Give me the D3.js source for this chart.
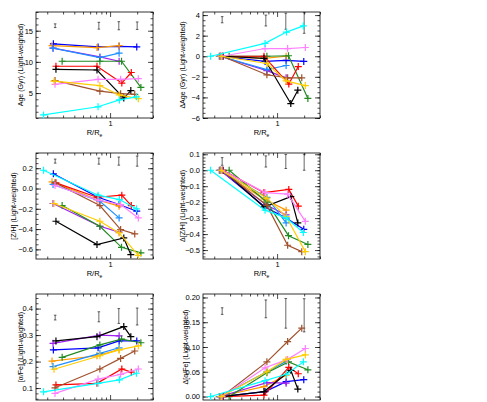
<!DOCTYPE html>
<html><head><meta charset="utf-8">
<script src="https://cdn.jsdelivr.net/npm/d3@7"></script>
<style>body{margin:0;background:#fff} text{font-family:"Liberation Sans",Arial,sans-serif}</style>
</head><body><svg id="c" width="487" height="402"></svg>
<script>
// ---------------- data ----------------
const galaxies = ["G1","G2","G3","G4","G5","G6","G7","G8","G9","G10","G11"];
const colors = ["#0000ff","#ff9900","#a020f0","#1e90ff","#228b22","#ff0000","#000000","#a0522d","#ff80ff","#ffcc00","#00ffff"];
const radii = [
  [0.234,0.735,1.26,1.98],
  [0.226,0.715,1.26],
  [0.232,0.77,1.26],
  [0.232,0.77,1.26],
  [0.293,0.77,1.34,2.2],
  [0.25,0.715,1.35,1.72],
  [0.25,0.715,1.42,1.7],
  [0.244,0.77,1.31,1.88],
  [0.244,0.735,1.31,2.06],
  [0.238,0.77,1.26,2.06],
  [0.182,0.735,1.27,1.96]
];
const age = [
  [12.9,12.4,12.5,12.4],
  [12.6,12.3,12.6],
  [12.2,10.8,10.1],
  [12.2,10.7,11.4],
  [10.1,10.1,10.1,5.9],
  [9.3,9.3,6.6,8.3],
  [8.8,8.7,4.2,5.4],
  [7.0,5.3,4.9,4.8],
  [6.4,7.2,7.2,7.3],
  [6.9,6.2,4.7,4.1],
  [1.5,2.8,3.9,4.4]
];
const dAge = [
  [0,-0.5,-0.4,-0.5],
  [0,-0.2,0.0],
  [0,-1.4,-2.1],
  [0,-1.3,-0.9],
  [0,0,0.05,-4.1],
  [0,0,-2.7,-1.0],
  [0,-0.2,-4.6,-3.3],
  [0,-1.8,-2.1,-2.1],
  [0,0.75,0.75,0.85],
  [0,-0.7,-2.4,-2.85],
  [0,1.25,2.35,2.95]
];
const zh = [
  [0.145,-0.086,-0.158,-0.224],
  [0.066,-0.11,-0.174],
  [-0.148,-0.372,-0.43],
  [0.04,-0.125,-0.29],
  [-0.168,-0.372,-0.58,-0.635],
  [0.056,-0.086,-0.066,-0.168],
  [-0.323,-0.553,-0.487,-0.652],
  [0.056,-0.168,-0.405,-0.448],
  [0.03,-0.115,-0.158,-0.29],
  [-0.148,-0.323,-0.438,-0.66],
  [0.18,-0.066,-0.109,-0.2]
];
const dZh = [
  [0,-0.23,-0.30,-0.37],
  [0,-0.18,-0.25],
  [0,-0.22,-0.28],
  [0,-0.17,-0.33],
  [0,-0.2,-0.41,-0.465],
  [0,-0.14,-0.12,-0.225],
  [0,-0.23,-0.165,-0.33],
  [0,-0.22,-0.47,-0.51],
  [0,-0.14,-0.15,-0.32],
  [0,-0.175,-0.29,-0.51],
  [0,-0.25,-0.30,-0.39]
];
const afe = [
  [0.244,0.252,0.278,0.278],
  [0.202,0.222,0.245],
  [0.269,0.30,0.297],
  [0.181,0.231,0.252],
  [0.216,0.263,0.285,0.271],
  [0.112,0.118,0.172,0.16],
  [0.278,0.294,0.332,0.294],
  [0.101,0.172,0.212,0.24],
  [0.08,0.134,0.152,0.172],
  [0.171,0.222,0.244,0.259],
  [0.086,0.118,0.131,0.156]
];
const dAfe = [
  [0,0.01,0.03,0.034],
  [0,0.02,0.043],
  [0,0.028,0.027],
  [0,0.05,0.071],
  [0,0.048,0.07,0.054],
  [0,0.003,0.059,0.046],
  [0,0.01,0.053,0.015],
  [0,0.07,0.111,0.138],
  [0,0.058,0.075,0.097],
  [0,0.05,0.075,0.084],
  [0,0.032,0.045,0.07]
];
// error bars (typical uncertainties), at fixed radii
const errR = [0.245,0.75,1.25,2.0];
const errAge  = {c:[15.8,15.8,15.8,15.8], h:[0.3,0.55,0.65,0.6]};
const errDAge = {c:[3.55,3.47,3.4,3.23], h:[0.3,0.53,0.78,1.0]};
const errZh   = {c:[0.27,0.27,0.27,0.27], h:[0.02,0.03,0.04,0.05]};
const errDZh  = {c:[0.055,0.055,0.055,0.05], h:[0.024,0.035,0.044,0.05]};
const errAfe  = {c:[0.366,0.369,0.372,0.37], h:[0.009,0.019,0.028,0.032]};
const errDAfe = {c:[0.1725,0.177,0.168,0.164], h:[0.0067,0.018,0.03,0.0335]};

const xDomain = [0.15, 3];
const xMinorTicks = [0.2,0.3,0.4,0.5,0.6,0.7,0.8,0.9,2,3];
const xMajorTicks = [1];

const yTicksAge = [5,10,15], yTicksDAge = [-6,-4,-2,0,2,4];
const yTicksZh = [-0.6,-0.4,-0.2,0.0,0.2], yTicksDZh = [-0.5,-0.4,-0.3,-0.2,-0.1,0.0,0.1];
const yTicksAfe = [0.1,0.2,0.3,0.4], yTicksDAfe = [0.00,0.05,0.10,0.15,0.20];

const panels = [
  {x0:36, y0:12, dom:[1,18], ticks:yTicksAge, fmt:d3.format("d"), minor:1, data:age, err:errAge, title:"Age (Gyr) (Light-weighted)", tx:20, xlab:true},
  {x0:203,y0:12, dom:[-6,4.3], ticks:yTicksDAge, fmt:d3.format("d"), minor:0.5, data:dAge, err:errDAge, title:"\u0394Age (Gyr) (Light-weighted)", tx:182, xlab:true},
  {x0:36, y0:153, dom:[-0.695,0.35], ticks:yTicksZh, fmt:d3.format(".1f"), minor:0.05, data:zh, err:errZh, title:"[Z/H] (Light-weighted)", tx:13, xlab:true},
  {x0:203,y0:153, dom:[-0.556,0.108], ticks:yTicksDZh, fmt:d3.format(".1f"), minor:0.02, data:dZh, err:errDZh, title:"\u0394[Z/H] (Light-weighted)", tx:182, xlab:true},
  {x0:36, y0:294, dom:[0.055,0.455], ticks:yTicksAfe, fmt:d3.format(".1f"), minor:0.02, data:afe, err:errAfe, title:"[\u03b1/Fe] (Light-weighted)", tx:20, xlab:false},
  {x0:203,y0:294, dom:[-0.007,0.207], ticks:yTicksDAfe, fmt:d3.format(".2f"), minor:0.01, data:dAfe, err:errDAfe, title:"\u0394[\u03b1/Fe] (Light-weighted)", tx:185, xlab:false}
];
const W = 117, H = 106;

const svg = d3.select("#c");
svg.append("rect").attr("width",487).attr("height",402).attr("fill","#fff");

function minors(dom, step){
  const out=[]; const lo=Math.min(...dom), hi=Math.max(...dom);
  for(let v=Math.ceil(lo/step-1e-6)*step; v<=hi+1e-9; v+=step) out.push(+v.toFixed(6));
  return out;
}

panels.forEach(p=>{
  const g = svg.append("g").attr("transform",`translate(${p.x0},${p.y0})`);
  const x = d3.scaleLog().domain(xDomain).range([0,W]);
  const y = d3.scaleLinear().domain(p.dom).range([H,0]);
  const styleAxis = sel => { sel.select(".domain").remove(); sel.selectAll("line").attr("stroke","#000").attr("stroke-width",0.7);
     sel.selectAll("text").attr("font-size","7.5px").attr("fill","#000"); };
  // x axes
  g.append("g").attr("transform",`translate(0,${H})`)
    .call(d3.axisBottom(x).tickValues(xMajorTicks).tickSizeInner(-5).tickSizeOuter(0).tickPadding(3).tickFormat(p.xlab?d3.format("d"):"")).call(styleAxis);
  g.append("g").attr("transform",`translate(0,${H})`)
    .call(d3.axisBottom(x).tickValues(xMinorTicks).tickSizeInner(-2.5).tickSizeOuter(0).tickFormat("")).call(styleAxis);
  g.append("g").call(d3.axisTop(x).tickValues(xMajorTicks).tickSizeInner(-5).tickSizeOuter(0).tickFormat("")).call(styleAxis);
  g.append("g").call(d3.axisTop(x).tickValues(xMinorTicks).tickSizeInner(-2.5).tickSizeOuter(0).tickFormat("")).call(styleAxis);
  // y axes
  g.append("g").call(d3.axisLeft(y).tickValues(p.ticks).tickSizeInner(-5).tickSizeOuter(0).tickPadding(3).tickFormat(p.fmt)).call(styleAxis);
  g.append("g").call(d3.axisLeft(y).tickValues(minors(p.dom,p.minor)).tickSizeInner(-2.5).tickSizeOuter(0).tickFormat("")).call(styleAxis);
  g.append("g").attr("transform",`translate(${W},0)`).call(d3.axisRight(y).tickValues(p.ticks).tickSizeInner(-5).tickSizeOuter(0).tickFormat("")).call(styleAxis);
  g.append("g").attr("transform",`translate(${W},0)`).call(d3.axisRight(y).tickValues(minors(p.dom,p.minor)).tickSizeInner(-2.5).tickSizeOuter(0).tickFormat("")).call(styleAxis);
  g.append("rect").attr("width",W).attr("height",H).attr("fill","none").attr("stroke","#000").attr("stroke-width",0.8);
  // x label
  if(p.xlab){
    const xl = g.append("text").attr("x",W/2).attr("y",H+17).attr("text-anchor","middle").attr("font-size","7.5px");
    xl.append("tspan").text("R/R");
    xl.append("tspan").attr("font-size","5px").attr("dy",1.5).text("e");
  }
  // y title
  svg.append("text").attr("transform",`translate(${p.tx+2.5},${p.y0+H/2}) rotate(-90)`)
    .attr("text-anchor","middle").attr("font-size","7px").text(p.title);
  // error bars
  const eg = g.append("g");
  errR.forEach((r,i)=>{
    const cx = x(r), y1 = y(p.err.c[i]-p.err.h[i]), y2 = y(p.err.c[i]+p.err.h[i]);
    eg.append("line").attr("x1",cx).attr("x2",cx).attr("y1",y1).attr("y2",y2).attr("stroke","#000").attr("stroke-width",0.6);
    eg.append("line").attr("x1",cx-1.3).attr("x2",cx+1.3).attr("y1",y1).attr("y2",y1).attr("stroke","#000").attr("stroke-width",0.6);
    eg.append("line").attr("x1",cx-1.3).attr("x2",cx+1.3).attr("y1",y2).attr("y2",y2).attr("stroke","#000").attr("stroke-width",0.6);
  });
  // series
  const line = d3.line().x(d=>x(d[0])).y(d=>y(d[1]));
  galaxies.forEach((gname,k)=>{
    const pts = radii[k].map((r,i)=>[r,p.data[k][i]]);
    g.append("path").attr("d",line(pts)).attr("fill","none").attr("stroke",colors[k]).attr("stroke-width",1.2);
    pts.forEach(d=>{
      const cx=x(d[0]), cy=y(d[1]), s=3.5;
      g.append("path").attr("d",`M${cx-s},${cy}H${cx+s}M${cx},${cy-s}V${cy+s}`).attr("stroke",colors[k]).attr("stroke-width",1.2);
    });
  });
});
</script></body></html>
